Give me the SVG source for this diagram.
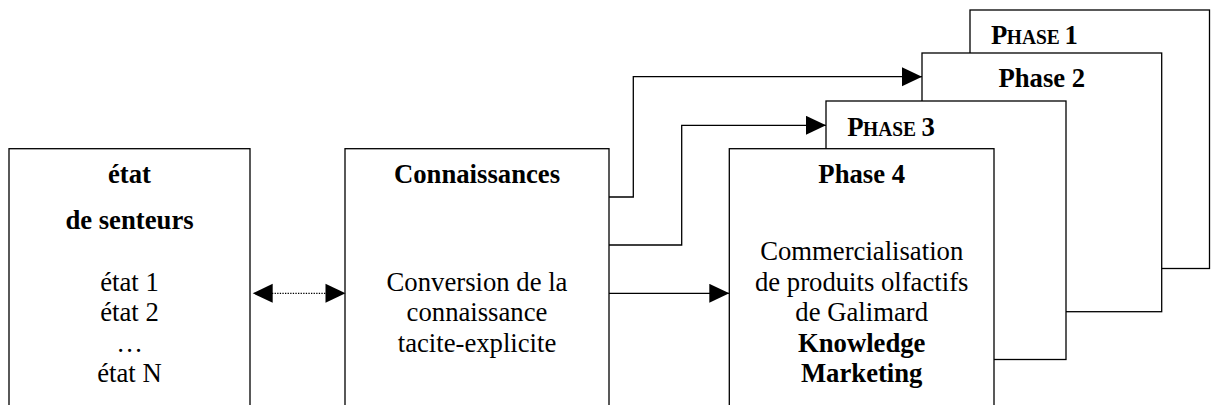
<svg xmlns="http://www.w3.org/2000/svg" width="1212" height="405" viewBox="0 0 1212 405">
<style>
.box{fill:#fff;stroke:#000;stroke-width:1.3}
.t{font-family:"Liberation Serif","Times New Roman",serif;font-size:26.7px;fill:#000}
.c{text-anchor:middle}
.b{font-weight:bold}
.sc{font-size:21.5px}
.ln{fill:none;stroke:#000;stroke-width:1.3}
.dot{fill:none;stroke:#000;stroke-width:1.3;stroke-dasharray:1.3,1.3}
</style>
<defs>
<marker id="ah" markerUnits="userSpaceOnUse" markerWidth="21" markerHeight="20" refX="20" refY="9.5" orient="auto-start-reverse">
<path d="M0,0 L20,9.5 L0,19 z" fill="#000"/>
</marker>
</defs>
<rect width="1212" height="405" fill="#fff"/>
<g id="phase1">
<rect class="box" x="970" y="10" width="239.5" height="258.5"/>
<text class="t b" x="991" y="44.3">P</text>
<text class="t b sc" x="1006.8" y="44.3" textLength="53" lengthAdjust="spacingAndGlyphs">HASE</text>
<text class="t b" x="1064.5" y="44.3">1</text>
</g>
<g id="phase2">
<rect class="box" x="922" y="53" width="239.7" height="258.7"/>
<text class="t b c" x="1041.8" y="87.3">Phase 2</text>
</g>
<g id="phase3">
<rect class="box" x="826" y="101" width="240" height="258.5"/>
<text class="t b" x="847.3" y="135.7">P</text>
<text class="t b sc" x="863.1" y="135.7" textLength="53" lengthAdjust="spacingAndGlyphs">HASE</text>
<text class="t b" x="921.6" y="135.7">3</text>
</g>
<g id="phase4">
<rect class="box" x="729.3" y="148.7" width="264.7" height="280"/>
<text class="t b c" x="861.7" y="182.7">Phase 4</text>
<text class="t c" x="861.7" y="260">Commercialisation</text>
<text class="t c" x="861.7" y="290.7">de produits olfactifs</text>
<text class="t c" x="861.7" y="321.3">de Galimard</text>
<text class="t b c" x="861.7" y="351.7">Knowledge</text>
<text class="t b c" x="861.7" y="382">Marketing</text>
</g>
<g id="etat">
<rect class="box" x="9" y="148.7" width="241" height="280"/>
<text class="t b c" x="129.5" y="182.7">état</text>
<text class="t b c" x="129.5" y="229.3">de senteurs</text>
<text class="t c" x="129.5" y="290.7">état 1</text>
<text class="t c" x="129.5" y="321.3">état 2</text>
<text class="t c" x="129.5" y="351.7">…</text>
<text class="t c" x="129.5" y="382">état N</text>
</g>
<g id="connaissances">
<rect class="box" x="345" y="148.7" width="264" height="280"/>
<text class="t b c" x="477" y="182.7">Connaissances</text>
<text class="t c" x="477" y="290.7">Conversion de la</text>
<text class="t c" x="477" y="321.3">connaissance</text>
<text class="t c" x="477" y="351.7">tacite-explicite</text>
</g>
<g id="connectors">
<path class="ln" d="M609,197 H633.3 V76.7 H922" marker-end="url(#ah)"/>
<path class="ln" d="M609,245 H681.7 V125.3 H826" marker-end="url(#ah)"/>
<path class="ln" d="M609,293.3 H729.3" marker-end="url(#ah)"/>
<path class="dot" d="M272,293.3 H326"/>
<path d="M252.7,293.3 L272.7,283.8 L272.7,302.8 z" fill="#000"/>
<path d="M345.5,293.3 L325.5,283.8 L325.5,302.8 z" fill="#000"/>
</g>
</svg>
